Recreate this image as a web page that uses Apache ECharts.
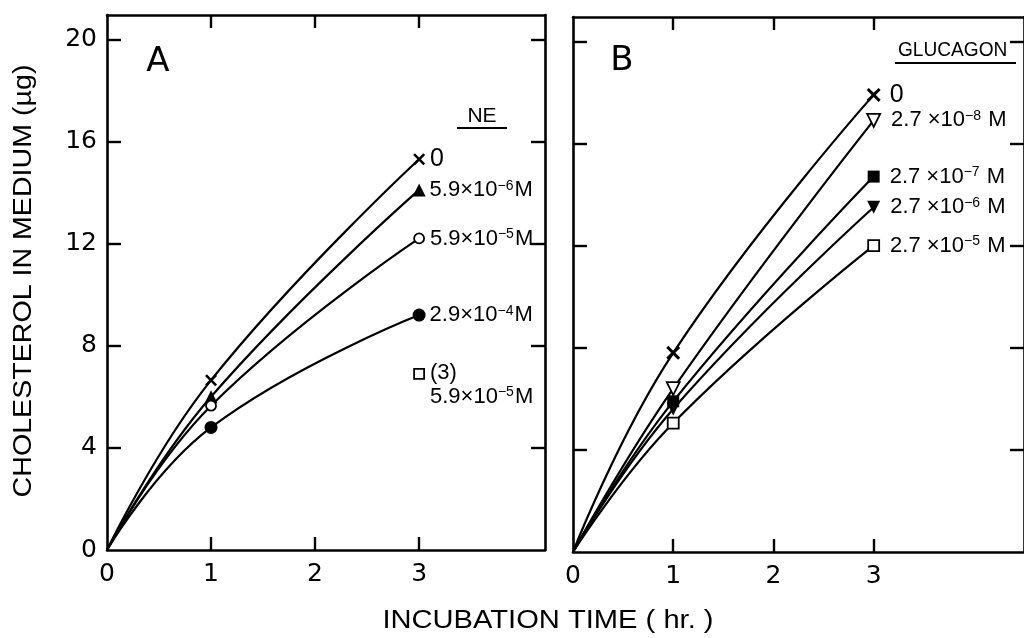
<!DOCTYPE html>
<html>
<head>
<meta charset="utf-8">
<script src="https://cdn.jsdelivr.net/npm/echarts@6/dist/echarts.min.js"></script>
<style>html,body{margin:0;padding:0;background:#fff}#c{width:1024px;height:638px}</style>
</head>
<body>
<div id="c"></div>
<script>
// ---- data ----
const xTickLabels = [0, 1, 2, 3];
const xTickMarks = [1, 2, 3];
const yTickLabels = [0, 4, 8, 12, 16, 20];
const yTickMarks = [4, 8, 12, 16, 20];
const hours = [0, 1, 3];

// Panel A: norepinephrine (NE); "^" marks the exponent
const neNames = ['0', '5.9×10^−6M', '5.9×10^−5M', '2.9×10^−4M'];
const ne0 = [0, 6.65, 15.3];
const ne59e6 = [0, 6.0, 14.1];
const ne59e5 = [0, 5.65, 12.2];
const ne29e4 = [0, 4.8, 9.2];
const neExtraName = ['(3)', '5.9×10^−5M'];
const neExtraPoint = [3, 6.9];

// Panel B: glucagon
const glNames = ['0', '2.7 ×10^−8 M', '2.7 ×10^−7 M', '2.7 ×10^−6 M', '2.7 ×10^−5 M'];
const gl0 = [0, 7.8, 17.9];
const gl27e8 = [0, 6.4, 16.9];
const gl27e7 = [0, 5.9, 14.7];
const gl27e6 = [0, 5.6, 13.5];
const gl27e5 = [0, 5.05, 12.0];

// ---- styling ----
const INK = '#000';
const FONT = 'DejaVu Sans';
const LFONT = 'Liberation Sans';
const CROSS = 'path://M3,0 L10,7 L17,0 L20,3 L13,10 L20,17 L17,20 L10,13 L3,20 L0,17 L7,10 L0,3 Z';

function rt(s) {
  return s.replace(/\^(−?\d)/g, '{s|$1}');
}
const RICH = {
  s: { fontSize: 14, fontFamily: LFONT, color: INK, verticalAlign: 'top', lineHeight: 22, padding: [0, 1, 0, 0] }
};

function mk(vals, name, sym, opts) {
  opts = opts || {};
  const data = hours.map((h, i) => {
    const d = { value: [h, vals[i]] };
    if (i === 0) d.symbol = 'none';
    if (i === hours.length - 1) {
      d.label = { show: true, formatter: rt(name) };
    }
    return d;
  });
  return {
    type: 'line',
    xAxisIndex: opts.grid * 2,
    yAxisIndex: opts.grid * 2,
    smooth: 0.45,
    data: data,
    symbol: sym,
    symbolSize: opts.size || 12,
    symbolRotate: opts.rotate || 0,
    showAllSymbol: true,
    lineStyle: { color: INK, width: 2.2 },
    itemStyle: {
      color: opts.open ? '#fff' : INK,
      borderColor: INK,
      borderWidth: opts.open ? 1.8 : 0,
      opacity: 1
    },
    label: {
      show: false,
      position: 'right',
      distance: opts.dist || 5,
      color: INK,
      fontFamily: LFONT,
      fontSize: opts.fs || 22,
      lineHeight: 22,
      rich: RICH
    },
    emphasis: { disabled: true },
    animation: false,
    z: 3
  };
}

function xAx(grid, pos, labels, max) {
  return {
    type: 'value', gridIndex: grid, position: pos, min: 0, max: max, interval: 1,
    axisLine: { show: true, onZero: false, lineStyle: { color: INK, width: 2.6 } },
    axisTick: { show: true, inside: true, length: 13, customValues: xTickMarks, lineStyle: { color: INK, width: 2.4 } },
    axisLabel: { show: labels, customValues: xTickLabels, margin: 12, color: INK, fontFamily: FONT, fontSize: 25 },
    splitLine: { show: false }
  };
}
function yAx(grid, pos, labels) {
  return {
    type: 'value', gridIndex: grid, position: pos, min: 0, max: 20.95, interval: 4,
    axisLine: { show: true, onZero: false, lineStyle: { color: INK, width: 2.6 } },
    axisTick: { show: true, inside: true, length: 14, customValues: yTickMarks, lineStyle: { color: INK, width: 2.4 } },
    axisLabel: { show: labels, customValues: yTickLabels, margin: 10, color: INK, fontFamily: FONT, fontSize: 25 },
    splitLine: { show: false }
  };
}

const series = [
  mk(ne0, neNames[0], CROSS, { grid: 0, size: 12, fs: 25, dist: 5 }),
  mk(ne59e6, neNames[1], 'triangle', { grid: 0, size: 13, dist: 4 }),
  mk(ne59e5, neNames[2], 'circle', { grid: 0, size: 10, open: true, dist: 5 }),
  mk(ne29e4, neNames[3], 'circle', { grid: 0, size: 13, dist: 4 }),
  {
    type: 'scatter', xAxisIndex: 0, yAxisIndex: 0,
    data: [{ value: neExtraPoint }],
    symbol: 'rect', symbolSize: 10,
    itemStyle: { color: '#fff', borderColor: INK, borderWidth: 1.8, opacity: 1 },
    label: {
      show: true, position: 'right', distance: 5, offset: [0, 11], opacity: 1,
      formatter: neExtraName.map(rt).join('\n'), lineHeight: 24,
      color: INK, fontFamily: LFONT, fontSize: 22,
      rich: { s: Object.assign({}, RICH.s, { lineHeight: 24 }) }
    },
    emphasis: { disabled: true }, animation: false
  },
  mk(gl0, glNames[0], CROSS, { grid: 1, size: 14, fs: 25, dist: 9 }),
  mk(gl27e8, glNames[1], 'triangle', { grid: 1, size: 13, open: true, rotate: 180, dist: 10 }),
  mk(gl27e7, glNames[2], 'rect', { grid: 1, size: 12, dist: 10 }),
  mk(gl27e6, glNames[3], 'triangle', { grid: 1, size: 13, rotate: 180, dist: 10 }),
  mk(gl27e5, glNames[4], 'rect', { grid: 1, size: 11, open: true, dist: 10 })
];

const option = {
  backgroundColor: '#fff',
  animation: false,
  grid: [
    { left: 107, top: 15, width: 438, height: 535 },
    { left: 573, top: 17, width: 461, height: 535 }
  ],
  xAxis: [
    xAx(0, 'bottom', true, 4.21), xAx(0, 'top', false, 4.21),
    xAx(1, 'bottom', true, 4.5), xAx(1, 'top', false, 4.5)
  ],
  yAxis: [
    yAx(0, 'left', true), yAx(0, 'right', false),
    yAx(1, 'left', false), yAx(1, 'right', false)
  ],
  series: series,
  graphic: [
    { type: 'text', x: 158, y: 62, style: { text: 'A', font: '34px "DejaVu Sans"', fill: INK, align: 'center', verticalAlign: 'middle' } },
    { type: 'text', x: 622, y: 61, style: { text: 'B', font: '34px "DejaVu Sans"', fill: INK, align: 'center', verticalAlign: 'middle' } },
    { type: 'text', x: 482, y: 116, style: { text: 'NE', font: '21px "Liberation Sans"', fill: INK, align: 'center', verticalAlign: 'middle' } },
    { type: 'line', shape: { x1: 457, y1: 128, x2: 507, y2: 128 }, style: { stroke: INK, lineWidth: 2 } },
    { type: 'text', x: 898, y: 50, scaleX: 0.91, style: { text: 'GLUCAGON', font: '21px "Liberation Sans"', fill: INK, align: 'left', verticalAlign: 'middle' } },
    { type: 'line', shape: { x1: 895, y1: 63, x2: 1016, y2: 63 }, style: { stroke: INK, lineWidth: 2 } },
    { type: 'text', x: 24, y: 281, rotation: Math.PI / 2, scaleX: 1.1, style: { text: 'CHOLESTEROL IN MEDIUM (µg)', font: '26px "Liberation Sans"', fill: INK, align: 'center', verticalAlign: 'middle' } },
    { type: 'text', x: 548, y: 621, scaleX: 1.12, style: { text: 'INCUBATION TIME ( hr. )', font: '26px "Liberation Sans"', fill: INK, align: 'center', verticalAlign: 'middle' } }
  ]
};

const chart = echarts.init(document.getElementById('c'), null, { renderer: 'canvas' });
chart.setOption(option);
</script>
</body>
</html>
